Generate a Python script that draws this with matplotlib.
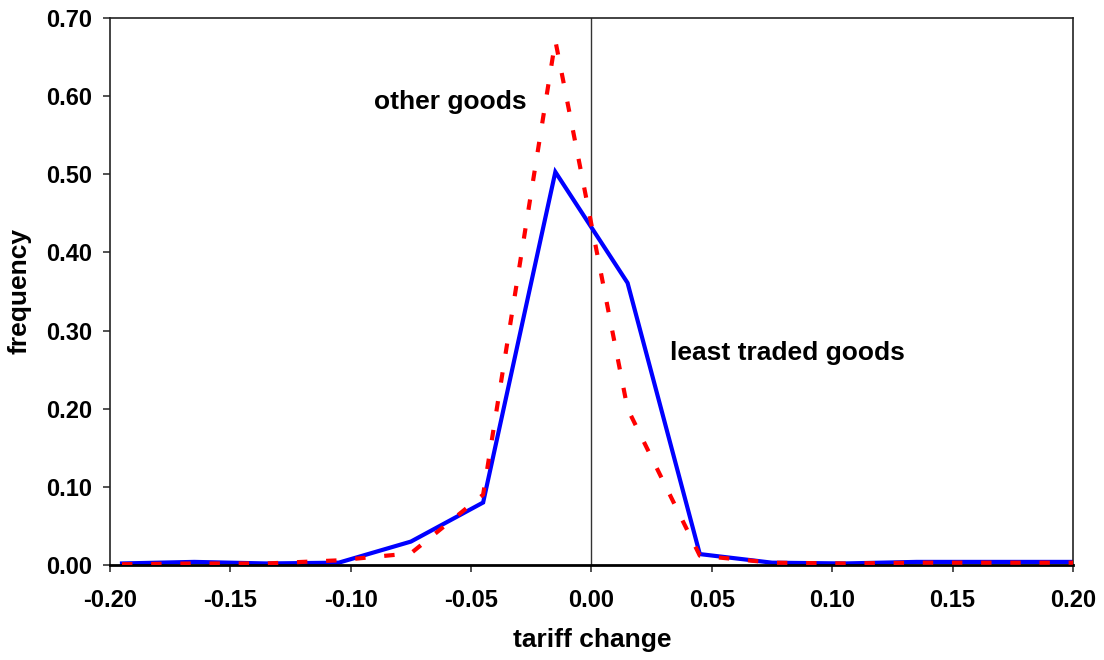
import matplotlib
matplotlib.use("Agg")
import matplotlib.pyplot as plt

plt.rcParams['font.family'] = ['Liberation Sans', 'DejaVu Sans']

x_vals = [-0.195, -0.165, -0.135, -0.105, -0.075, -0.045, -0.015, 0.015,
          0.045, 0.075, 0.105, 0.135, 0.165, 0.195, 0.225]
least_traded = [0.002, 0.004, 0.002, 0.003, 0.030, 0.080, 0.503, 0.361,
                0.014, 0.003, 0.002, 0.004, 0.004, 0.004, 0.004]
other_goods = [0.001, 0.002, 0.002, 0.006, 0.015, 0.090, 0.671, 0.200,
               0.012, 0.003, 0.002, 0.003, 0.003, 0.003, 0.003]
x_ticks = [-0.20, -0.15, -0.10, -0.05, 0.00, 0.05, 0.10, 0.15, 0.20]
y_ticks = [0.00, 0.10, 0.20, 0.30, 0.40, 0.50, 0.60, 0.70]

fig = plt.figure(figsize=(11.04, 6.6), dpi=100)
ax = fig.add_axes([0.0996, 0.1439, 0.8723, 0.8288])

ax.axvline(0.0, color='#333333', lw=1.0, zorder=1)
ax.plot(x_vals, least_traded, color='#0000ff', lw=3.0, zorder=2,
        solid_joinstyle='miter')
l2, = ax.plot(x_vals, other_goods, color='#ff0000', lw=3.0, zorder=3,
              dash_capstyle='butt')
l2.set_dashes([2.5, 4.5])

ax.set_xlim(-0.20, 0.20)
ax.set_ylim(0.0, 0.70)
ax.set_xticks(x_ticks)
ax.set_yticks(y_ticks)
ax.set_xticklabels([f"{v:.2f}" for v in x_ticks], fontsize=17, fontweight='bold')
ax.set_yticklabels([f"{v:.2f}" for v in y_ticks], fontsize=17, fontweight='bold')
ax.tick_params(axis='both', direction='out', length=5, width=1.2, color='#333333')
ax.tick_params(axis='x', pad=12)
ax.tick_params(axis='y', pad=8)
for s in ax.spines.values():
    s.set_linewidth(1.2)
    s.set_color('#222222')
ax.spines['bottom'].set_linewidth(2.0)
ax.spines['bottom'].set_color('black')

ax.text(-0.0588, 0.5925, 'other goods', fontsize=19, fontweight='bold',
        ha='center', va='center')
ax.text(0.0812, 0.271, 'least traded goods', fontsize=19, fontweight='bold',
        ha='center', va='center')

fig.text(592/1104, 1 - 640/660, 'tariff change', fontsize=19, fontweight='bold',
         ha='center', va='center')
fig.text(20/1104, 1 - 291/660, 'frequency', fontsize=19, fontweight='bold',
         ha='center', va='center', rotation=90)

fig.savefig('out.png', dpi=100)
